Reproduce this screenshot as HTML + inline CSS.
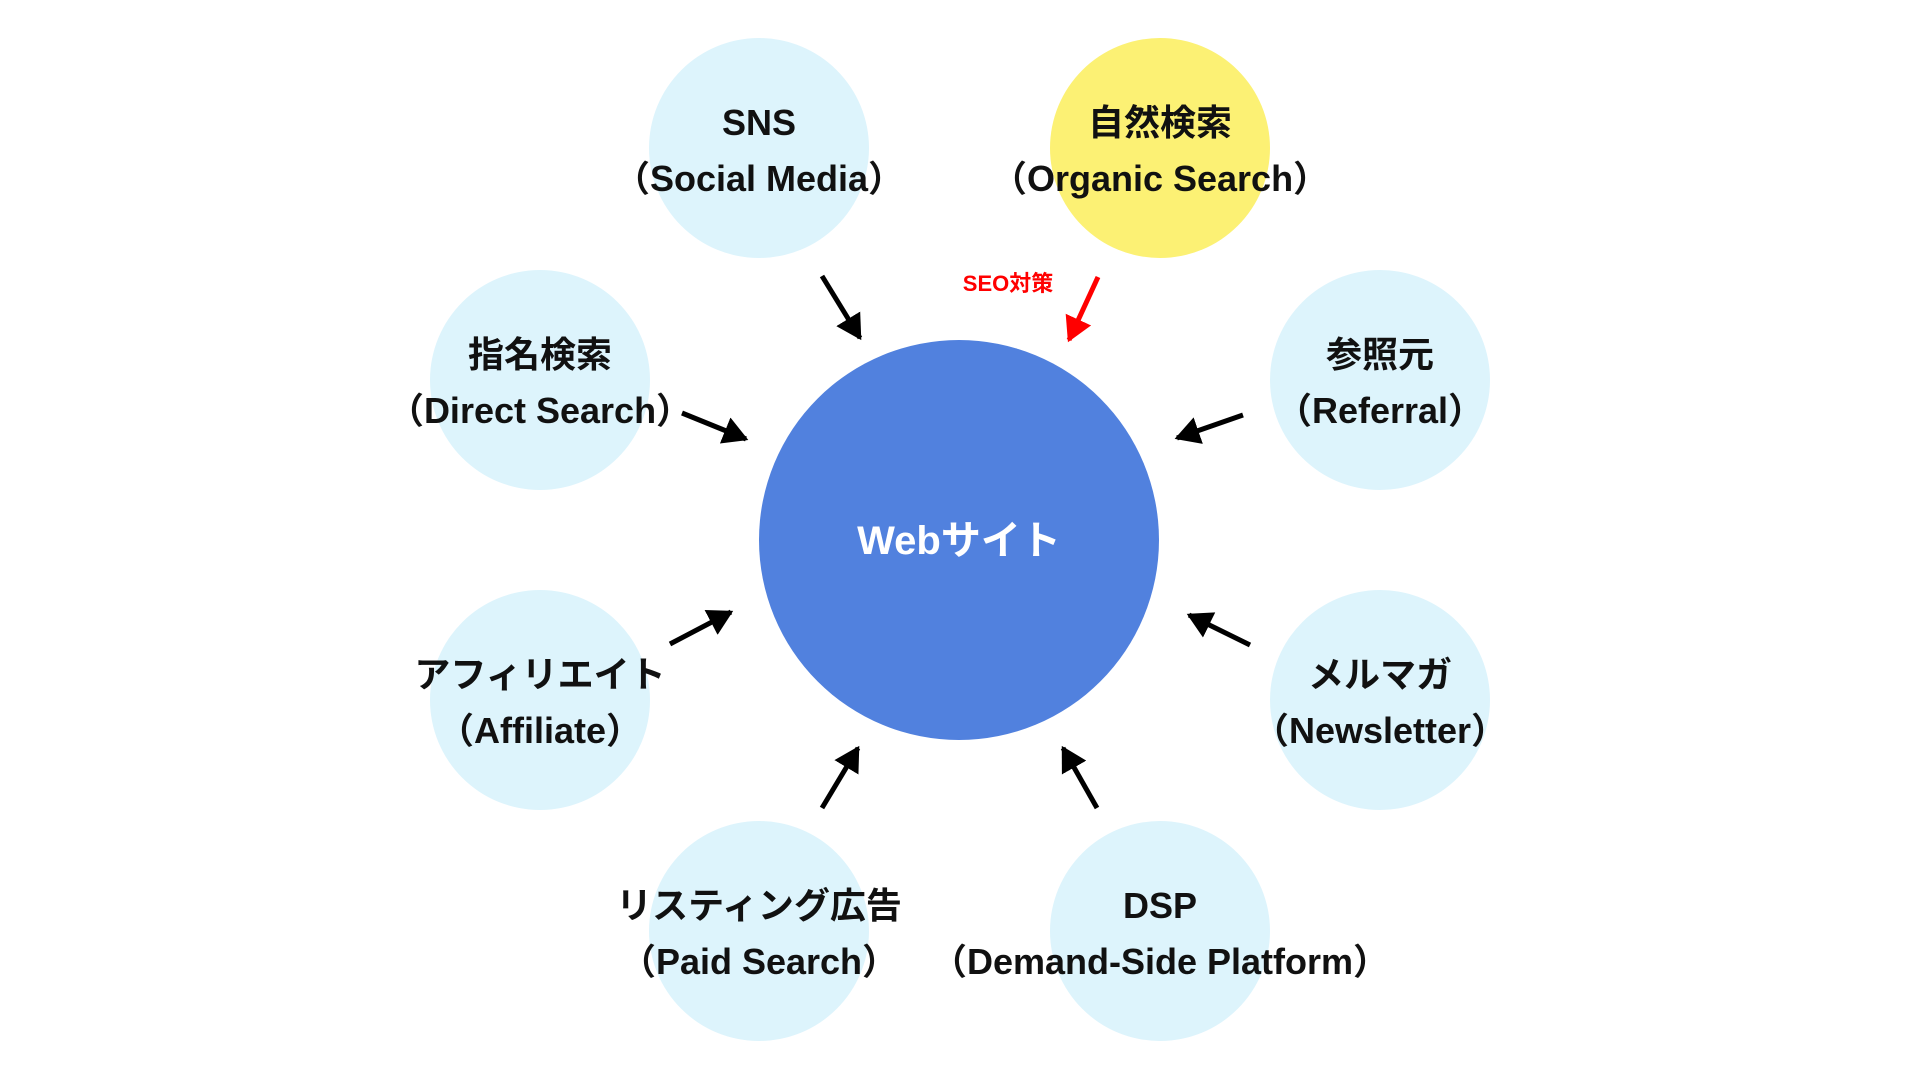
<!DOCTYPE html>
<html><head><meta charset="utf-8"><style>
html,body{margin:0;padding:0;background:#fff;}
svg{display:block}
text{font-family:"Liberation Sans","Noto Sans CJK JP",sans-serif;font-weight:bold;text-anchor:middle;}
</style></head><body>
<svg width="1920" height="1080" viewBox="0 0 1920 1080" xmlns="http://www.w3.org/2000/svg">
<defs>
<marker id="ab" markerWidth="7" markerHeight="7" refX="4.5" refY="3.2" orient="auto" markerUnits="strokeWidth"><path d="M0,0.4 L5,3.2 L0,6 z" fill="#000"/></marker>
<marker id="ar" markerWidth="7" markerHeight="7" refX="4.5" refY="3.2" orient="auto" markerUnits="strokeWidth"><path d="M0,0.4 L5,3.2 L0,6 z" fill="#f00"/></marker>
</defs>
<g fill="#ddf4fc">
<circle cx="759" cy="148" r="110"/>
<circle cx="540" cy="380" r="110"/>
<circle cx="1380" cy="380" r="110"/>
<circle cx="540" cy="700" r="110"/>
<circle cx="1380" cy="700" r="110"/>
<circle cx="759" cy="931" r="110"/>
<circle cx="1160" cy="931" r="110"/>
</g>
<circle cx="1160" cy="148" r="110" fill="#fcf174"/>
<circle cx="959" cy="540" r="200" fill="#5181de"/>
<text x="959" y="554" font-size="40" fill="#fff">Webサイト</text>
<g font-size="36" fill="#111">
<text x="759" y="135">SNS</text><text x="759" y="191">（Social Media）</text>
<text x="1160" y="135">自然検索</text><text x="1160" y="191">（Organic Search）</text>
<text x="540" y="367">指名検索</text><text x="540" y="423">（Direct Search）</text>
<text x="1380" y="367">参照元</text><text x="1380" y="423">（Referral）</text>
<text x="540" y="687">アフィリエイト</text><text x="540" y="743">（Affiliate）</text>
<text x="1380" y="687">メルマガ</text><text x="1380" y="743">（Newsletter）</text>
<text x="759" y="918">リスティング広告</text><text x="759" y="974">（Paid Search）</text>
<text x="1160" y="918">DSP</text><text x="1160" y="974">（Demand-Side Platform）</text>
</g>
<text x="1008" y="291" font-size="22" fill="#f00">SEO対策</text>
<g stroke="#000" stroke-width="5" marker-end="url(#ab)">
<line x1="822" y1="276" x2="860" y2="338"/>
<line x1="682" y1="413" x2="746" y2="439"/>
<line x1="1243" y1="415" x2="1177" y2="438"/>
<line x1="670" y1="644" x2="731" y2="612"/>
<line x1="1250" y1="645" x2="1189" y2="615"/>
<line x1="822" y1="808" x2="858" y2="748"/>
<line x1="1097" y1="808" x2="1063" y2="748"/>
</g>
<line x1="1098" y1="277" x2="1069" y2="340" stroke="#f00" stroke-width="5" marker-end="url(#ar)"/>
</svg>
</body></html>
